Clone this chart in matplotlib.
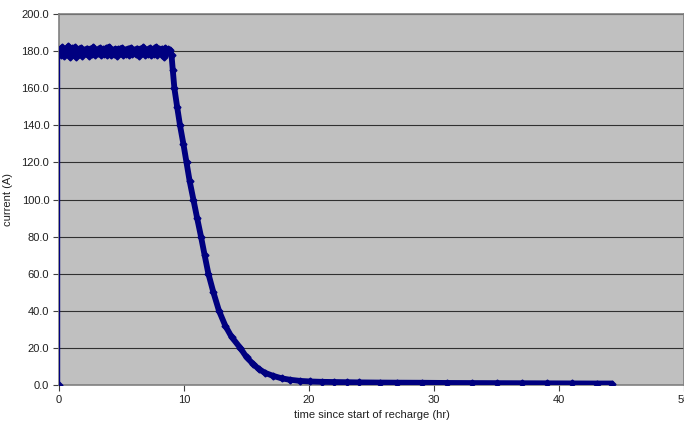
import matplotlib.pyplot as plt
from matplotlib.ticker import FormatStrFormatter

plt.rcParams['font.family'] = ['Liberation Sans', 'DejaVu Sans']

# ---- data ----
# first logged sample (0 A), then the constant-current phase
t_start = [0.0, 0.0]
i_start = [0.0, 180.5]

t_flat = [0.0, 0.125, 0.25, 0.375, 0.5, 0.625, 0.75, 0.875, 1.0, 1.125, 1.25,
          1.375, 1.5, 1.625, 1.75, 1.875, 2.0, 2.125, 2.25, 2.375, 2.5, 2.625,
          2.75, 2.875, 3.0, 3.125, 3.25, 3.375, 3.5, 3.625, 3.75, 3.875, 4.0,
          4.125, 4.25, 4.375, 4.5, 4.625, 4.75, 4.875, 5.0, 5.125, 5.25, 5.375,
          5.5, 5.625, 5.75, 5.875, 6.0, 6.125, 6.25, 6.375, 6.5, 6.625, 6.75,
          6.875, 7.0, 7.125, 7.25, 7.375, 7.5, 7.625, 7.75, 7.875, 8.0, 8.125,
          8.25, 8.375, 8.5, 8.625, 8.75]
i_flat = [180.5, 178.0, 182.0, 177.5, 181.0, 179.0, 182.5, 177.0, 181.5, 178.5,
          182.0, 176.8, 180.8, 178.2, 181.8, 177.4, 180.6, 178.8, 181.4, 177.6,
          181.0, 178.4, 182.0, 177.8, 180.4, 179.0, 181.6, 177.9, 180.9, 178.3,
          181.5, 178.0, 182.3, 177.7, 180.7, 178.6, 181.2, 177.5, 181.0, 178.9,
          181.7, 177.8, 180.5, 178.4, 181.3, 177.9, 181.8, 178.7, 180.6, 178.2,
          181.4, 177.6, 181.0, 179.0, 182.0, 178.1, 180.8, 178.5, 181.6, 177.8,
          181.1, 178.3, 182.2, 178.0, 180.9, 178.6, 181.3, 176.8, 181.5, 178.9,
          181.0]

# taper phase
t_drop = [8.9, 9.0, 9.1, 9.23, 9.45, 9.68, 9.95, 10.2, 10.45, 10.75, 11.05,
          11.36, 11.65, 11.95, 12.35, 12.8, 13.3, 13.8, 14.5, 15.0, 15.5, 16.0,
          16.5, 17.1, 17.8, 18.5, 19.3, 20.1, 21.0, 22.0, 23.0, 24.0, 25.7,
          27.0, 29.0, 31.0, 33.0, 35.0, 37.0, 39.0, 41.0, 43.0, 44.2]
i_drop = [180.5, 178.0, 170.0, 160.0, 150.0, 140.0, 130.0, 120.0, 110.0, 100.0,
          90.0, 80.0, 70.0, 60.0, 50.0, 40.0, 32.0, 26.0, 20.0, 15.0, 11.5, 8.5,
          6.5, 5.0, 3.6, 2.8, 2.2, 1.9, 1.7, 1.6, 1.5, 1.4, 1.3, 1.25, 1.2, 1.1,
          1.05, 1.0, 0.95, 0.9, 0.85, 0.8, 0.8]

y_ticks = [0, 20, 40, 60, 80, 100, 120, 140, 160, 180, 200]
x_ticks = [0, 10, 20, 30, 40, 50]

navy = '#000080'

fig = plt.figure(figsize=(6.84, 4.25), dpi=100)
ax = fig.add_axes([59/684, 40/425, 625/684, 371/425])
ax.set_facecolor('#C0C0C0')

ax.plot(t_start, i_start, color=navy, lw=1, marker='D', ms=3.5, zorder=3)
ax.plot(t_flat + t_drop, i_flat + i_drop, color=navy, lw=4.2, marker='D',
        ms=3.5, solid_capstyle='round', solid_joinstyle='round', zorder=3)

ax.set_xlim(0, 50)
ax.set_ylim(0, 200)
ax.set_xticks(x_ticks)
ax.set_yticks(y_ticks)
ax.yaxis.set_major_formatter(FormatStrFormatter('%.1f'))
ax.grid(axis='y', color='#303030', lw=0.8)
ax.set_axisbelow(True)

for s in ax.spines.values():
    s.set_color('#808080')
    s.set_linewidth(1.2)
ax.tick_params(direction='out', length=4, width=0.8, color='#404040',
               labelsize=8, labelcolor='#202020', pad=3)

ax.set_xlabel('time since start of recharge (hr)', fontsize=8, color='#202020', labelpad=4)
ax.set_ylabel('current (A)', fontsize=8, color='#202020', labelpad=6)

fig.savefig('out.png', dpi=100)
